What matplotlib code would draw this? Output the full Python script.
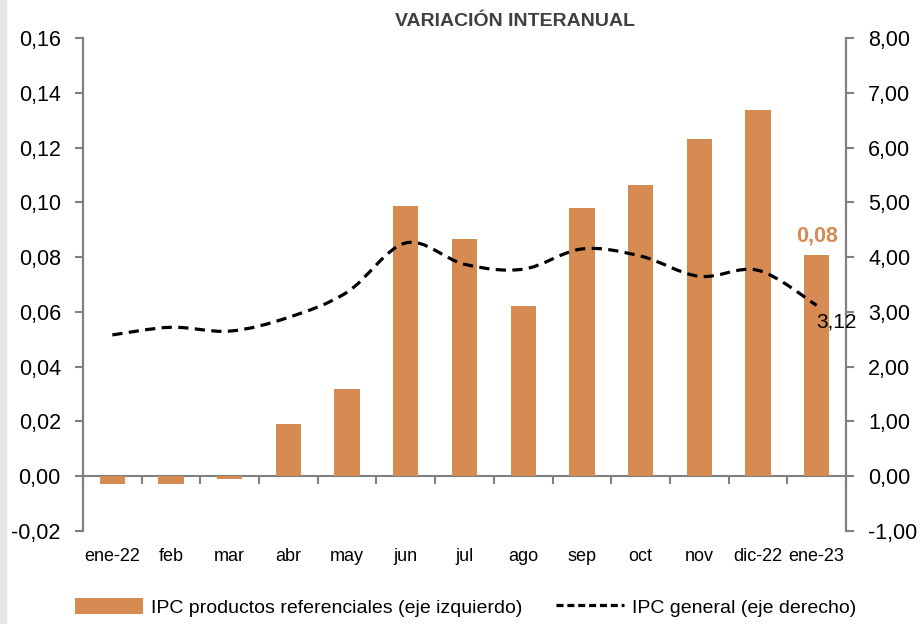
import numpy as np
import matplotlib
matplotlib.use("Agg")
import matplotlib.pyplot as plt
from matplotlib.path import Path
from matplotlib.patches import PathPatch, Patch, Rectangle
from matplotlib.lines import Line2D
from matplotlib.ticker import FuncFormatter

plt.rcParams['font.family'] = ['Liberation Sans', 'DejaVu Sans']

# Datos
meses = ["ene-22", "feb", "mar", "abr", "may", "jun", "jul", "ago",
         "sep", "oct", "nov", "dic-22", "ene-23"]
ipc_referenciales = [-0.003, -0.003, -0.001, 0.019, 0.032, 0.0986, 0.0866,
                     0.062, 0.098, 0.1065, 0.123, 0.1337, 0.0807]
ipc_general = [2.58, 2.72, 2.65, 2.90, 3.36, 4.26, 3.87, 3.78, 4.15, 4.02,
               3.65, 3.76, 3.12]

naranja = "#D68B52"
gris = "#808080"


def coma(v, pos=None):
    return f"{v:.2f}".replace(".", ",")


fig = plt.figure(figsize=(9.22, 6.24), dpi=100)
fig.patches.append(Rectangle((0, 0), 0.007, 1, transform=fig.transFigure,
                             color="#e6e6e6", zorder=0))
ax = fig.add_axes([0.090, 0.149, 0.8276, 0.790])
ax2 = ax.twinx()

x = np.arange(len(meses))
ax.bar(x, ipc_referenciales, width=0.43, color=naranja, zorder=2)

# eje izquierdo
ax.set_ylim(-0.02, 0.16)
ax.set_yticks(np.round(np.arange(-0.02, 0.1601, 0.02), 2))
ax.yaxis.set_major_formatter(FuncFormatter(coma))
ax.set_xlim(-0.5, len(meses) - 0.5)
ax.set_xticks(x)
ax.set_xticklabels(meses)
ax.tick_params(axis="x", length=0, pad=12, labelsize=13)
ax.tick_params(axis="y", direction="out", length=6, width=1.5, color=gris,
               labelsize=15.5, pad=10)

# eje derecho
ax2.set_ylim(-1, 8)
ax2.set_yticks(np.arange(-1, 8.01, 1))
ax2.yaxis.set_major_formatter(FuncFormatter(coma))
ax2.tick_params(axis="y", direction="out", length=6, width=1.5, color=gris,
                labelsize=15.5, pad=10)

for a in (ax, ax2):
    a.spines["top"].set_visible(False)
    a.spines["bottom"].set_visible(False)
    a.spines["left"].set_color(gris)
    a.spines["right"].set_color(gris)
    a.spines["left"].set_linewidth(1.5)
    a.spines["right"].set_linewidth(1.5)

# línea del cero con marcas entre categorías
ax.axhline(0, color=gris, lw=1.5, zorder=1)
bordes = np.arange(-0.5, len(meses), 1.0)
ax.plot(bordes, np.zeros_like(bordes), ls="none", marker=3, ms=6,
        mew=1.5, color=gris, zorder=1, clip_on=False)

# línea suavizada (curva tipo Excel)
px = x.astype(float)
py = np.array(ipc_general)
verts = [(px[0], py[0])]
codes = [Path.MOVETO]
n = len(px)
for i in range(n - 1):
    p0 = (px[max(i - 1, 0)], py[max(i - 1, 0)])
    p1 = (px[i], py[i])
    p2 = (px[i + 1], py[i + 1])
    p3 = (px[min(i + 2, n - 1)], py[min(i + 2, n - 1)])
    c1 = (p1[0] + (p2[0] - p0[0]) / 6, p1[1] + (p2[1] - p0[1]) / 6)
    c2 = (p2[0] - (p3[0] - p1[0]) / 6, p2[1] - (p3[1] - p1[1]) / 6)
    verts += [c1, c2, p2]
    codes += [Path.CURVE4] * 3
ax2.add_patch(PathPatch(Path(verts, codes), fill=False, edgecolor="black",
                        lw=2.3, linestyle=(0, (3.2, 2.0)), zorder=3))

# etiquetas de datos
ax.annotate(coma(ipc_referenciales[-1]), (x[-1], ipc_referenciales[-1]),
            xytext=(0, 6), textcoords="offset points", ha="center",
            va="bottom", fontsize=15.5, fontweight="bold", color=naranja)
ax2.annotate(coma(ipc_general[-1]), (x[-1], ipc_general[-1]),
             xytext=(0, -12), textcoords="offset points", ha="left",
             va="center", fontsize=15, color="black")

fig.text(0.5586, 0.966, "VARIACIÓN INTERANUAL", ha="center", va="center",
         fontsize=14, fontweight="bold", color="#404040")

handles = [Patch(facecolor=naranja, edgecolor="none"),
           Line2D([0], [0], color="black", lw=2.3, linestyle=(0, (2.2, 1.2)))]
fig.legend(handles, ["IPC productos referenciales (eje izquierdo)",
                     "IPC general (eje derecho)"],
           loc="center", bbox_to_anchor=(0.505, 0.027), ncol=2, frameon=False,
           fontsize=14, handlelength=3.5, handleheight=0.9, handletextpad=0.4,
           columnspacing=1.7)

fig.savefig("out.png", dpi=100)
